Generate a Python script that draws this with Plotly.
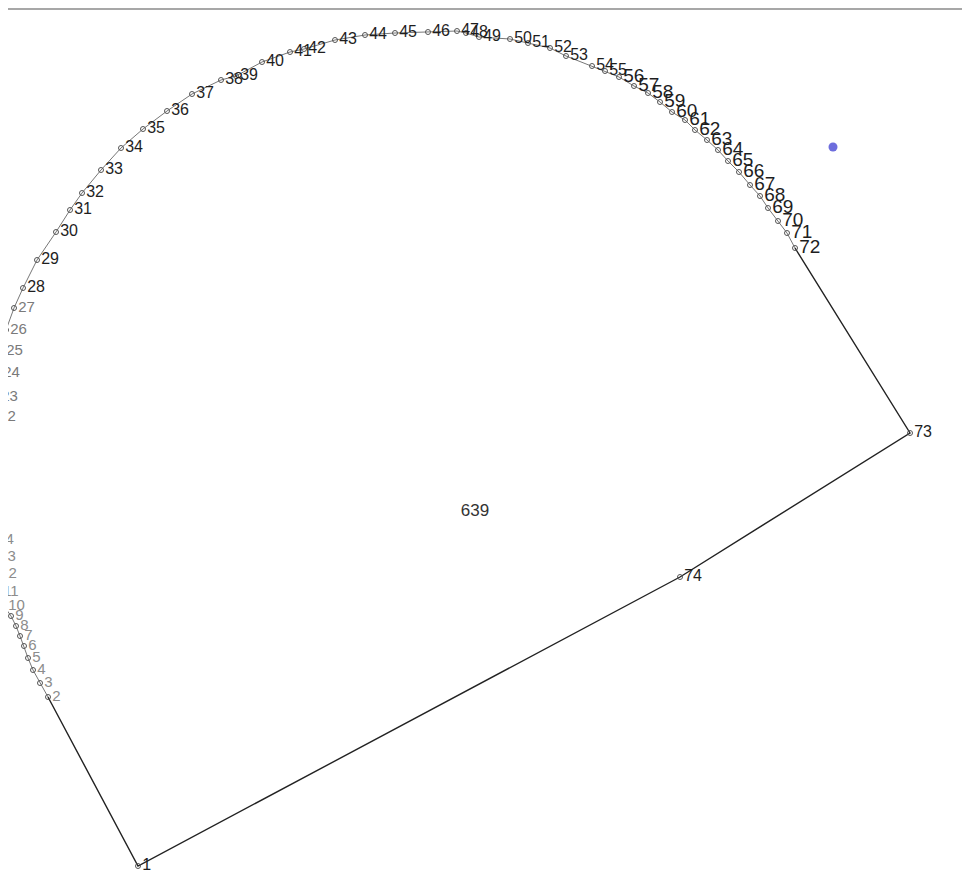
import plotly.graph_objects as go

# Vertex numbers of the parcel boundary (scanned survey sketch)
point_labels = ["1", "2", "3", "4", "5", "6", "7", "8", "9", "10",
                "11", "12", "13", "14", "15", "16", "17", "18", "19", "20",
                "21", "22", "23", "24", "25", "26", "27", "28", "29", "30",
                "31", "32", "33", "34", "35", "36", "37", "38", "39", "40",
                "41", "42", "43", "44", "45", "46", "47", "48", "49", "50",
                "51", "52", "53", "54", "55", "56", "57", "58", "59", "60",
                "61", "62", "63", "64", "65", "66", "67", "68", "69", "70",
                "71", "72", "73", "74"]

# Vertex coordinates read from the sheet (sheet units, y measured downward)
x_coord = [138, 48, 40, 33, 28, 24, 20, 16, 11, 4,
           -1, -4, -5, -7, -9, -11, -12, -12, -11, -9,
           -7, -5, -3, -1, 2, 6, 14, 23, 37, 56,
           70, 82, 101, 121, 143, 167, 192, 221, 236, 262,
           290, 304, 335, 365, 395, 428, 457, 466, 479, 510,
           528, 550, 566, 592, 605, 619, 634, 648, 660, 672,
           685, 695, 707, 718, 728, 739, 750, 760, 768, 778,
           787, 795, 910, 680]
y_coord = [866, 697, 683, 670, 658, 646, 636, 626, 616, 606,
           592, 574, 557, 540, 525, 509, 494, 478, 463, 448,
           432, 417, 397, 373, 351, 330, 308, 288, 260, 232,
           210, 193, 170, 148, 129, 111, 94, 80, 76, 62,
           52, 49, 40, 35, 33, 32, 31, 33, 37, 39,
           43, 48, 56, 66, 71, 77, 86, 93, 102, 112,
           120, 130, 140, 150, 161, 172, 185, 196, 208, 221,
           233, 248, 433, 577]

parcel_label = "639"
parcel_x = [475]
parcel_y = [512]

# scan artefact (blue ink smudge)
smudge_x = [833]
smudge_y = [147]

# ---- styling (scan fading / pen size of the labels) ----
def label_color(n):
    if 2 <= n <= 14:
        return "#8c8c8c"
    if 15 <= n <= 21:
        return "rgba(255,255,255,0)"
    if 22 <= n <= 27:
        return "#7a7a7a"
    return "#1e1e1e"

def label_size(n):
    if 56 <= n <= 72:
        return 19
    if 28 <= n <= 55:
        return 16
    if 2 <= n <= 27:
        return 15
    return 16

nums = [int(s) for s in point_labels]
text_colors = [label_color(n) for n in nums]
text_sizes = [label_size(n) for n in nums]

fig = go.Figure()

# curved side of the boundary (vertices 2..72)
fig.add_trace(go.Scatter(
    x=x_coord[1:72], y=y_coord[1:72],
    mode="lines", line=dict(color="#777777", width=1),
    hoverinfo="skip", showlegend=False))

# straight sides 72-73-74-1-2
fig.add_trace(go.Scatter(
    x=x_coord[71:] + x_coord[:2], y=y_coord[71:] + y_coord[:2],
    mode="lines", line=dict(color="#222222", width=1.4),
    hoverinfo="skip", showlegend=False))

# vertices with numbers
fig.add_trace(go.Scatter(
    x=x_coord, y=y_coord, mode="markers+text",
    text=point_labels, textposition="middle right",
    textfont=dict(family="Liberation Sans, Arial, sans-serif", size=text_sizes, color=text_colors),
    marker=dict(symbol="circle-open", size=5, color="#555555", line=dict(width=1)),
    showlegend=False))

# parcel number
fig.add_trace(go.Scatter(
    x=parcel_x, y=parcel_y, mode="text", text=[parcel_label],
    textfont=dict(family="Liberation Sans, Arial, sans-serif", size=17, color="#333333"),
    showlegend=False))

fig.add_trace(go.Scatter(
    x=smudge_x, y=smudge_y, mode="markers",
    marker=dict(size=9, color="rgba(60,60,210,0.75)", symbol="circle"),
    hoverinfo="skip", showlegend=False))

# top edge of the scanned sheet
fig.add_shape(type="line", xref="x", yref="y", x0=8, x1=970, y0=9, y1=9,
              line=dict(color="#8a8a8a", width=1.5))

# page body has an 8px margin: ranges chosen so that sheet units equal page pixels
fig.update_layout(
    width=962, height=880,
    margin=dict(l=0, r=0, t=0, b=0),
    paper_bgcolor="white", plot_bgcolor="white",
    xaxis=dict(range=[8, 970], visible=False, showgrid=False, zeroline=False),
    yaxis=dict(range=[888, 8], visible=False, showgrid=False, zeroline=False),
)

fig.write_html("out.html")
